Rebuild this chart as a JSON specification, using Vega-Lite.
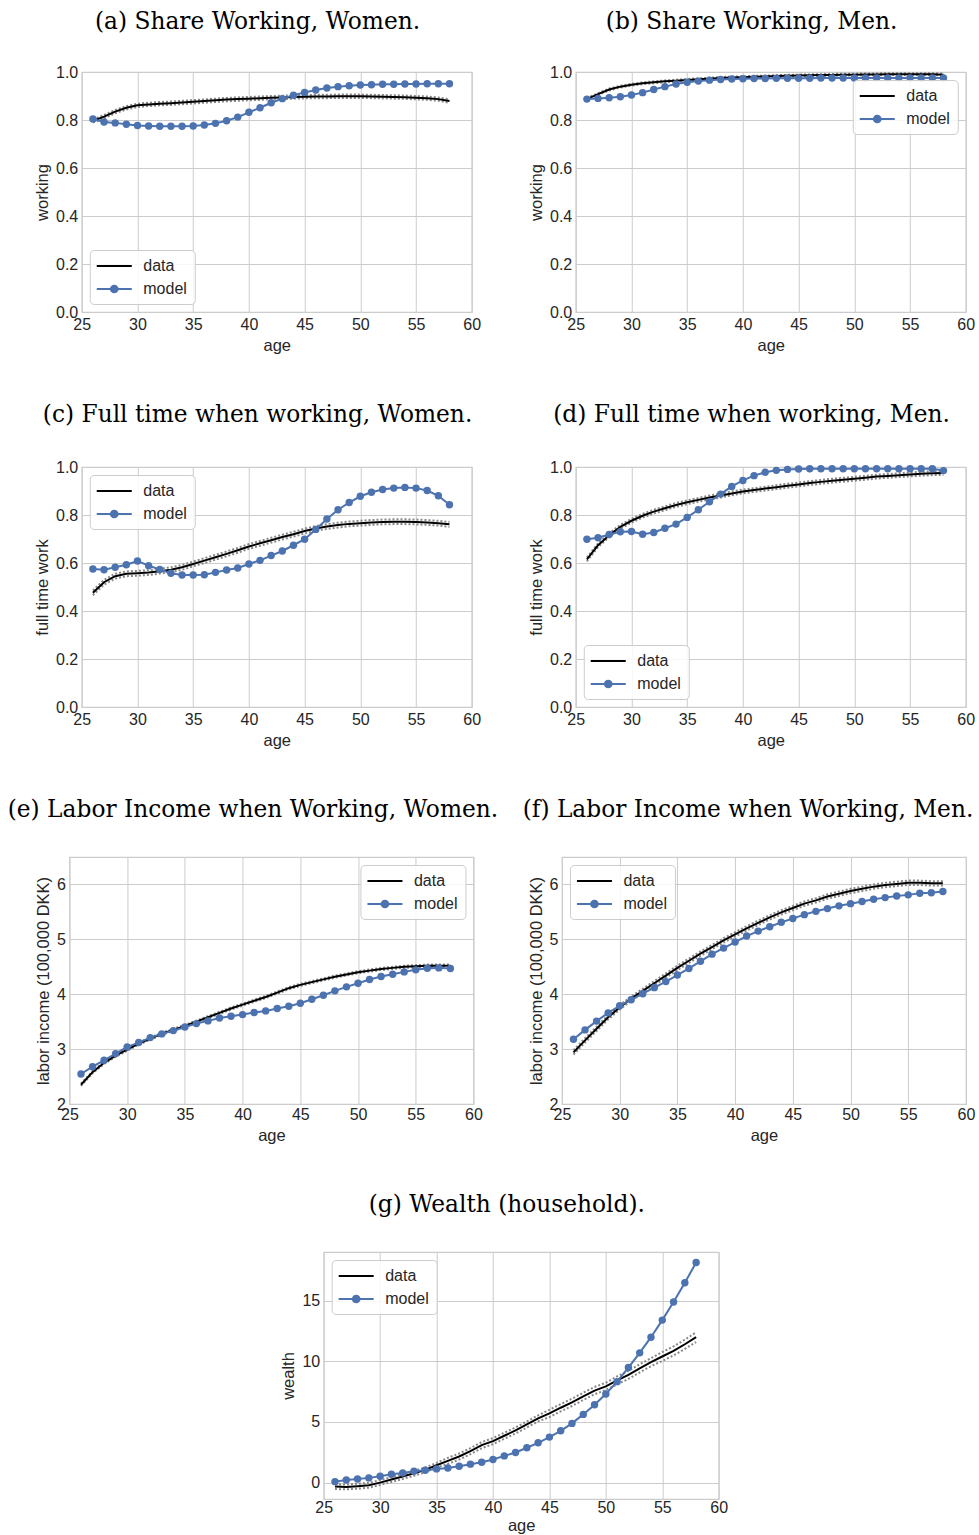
{
"$schema": "https://vega.github.io/schema/vega-lite/v6.json",
"background": "white",
"padding": {"left": 7, "top": 9, "right": 0, "bottom": 0},
"spacing": 47,
"center": true,
"resolve": {"scale": {"color": "independent"}, "legend": {"color": "independent"}},
"config": {
 "view": {"stroke": "#cccccc", "strokeWidth": 1.2},
 "axis": {"grid": true, "gridColor": "#cccccc", "gridWidth": 1, "domain": false, "ticks": false, "labelFont": "Liberation Sans", "labelFontSize": 16, "labelColor": "#262626", "titleFont": "Liberation Sans", "titleFontSize": 16.5, "titleFontWeight": "normal", "titleColor": "#262626", "labelPadding": 4, "titlePadding": 5, "labelFlush": false, "labelOverlap": false},
 "title": {"font": "DejaVu Serif", "fontSize": 23.3, "fontWeight": "normal", "color": "#000000", "offset": 30, "anchor": "middle", "frame": "bounds"},
 "legend": {"title": null, "symbolSize": 256, "symbolOffset": 8.5, "labelOffset": 20, "labelFontSize": 16, "labelFont": "Liberation Sans", "labelColor": "#262626", "padding": 7, "rowPadding": 6, "strokeColor": "#cccccc", "fillColor": "rgba(255,255,255,0.85)", "cornerRadius": 4, "symbolStrokeWidth": 2, "offset": 8}
},
"datasets": {
"a": [
{"age":26,"lo":0.789,"data":0.796,"hi":0.803,"model":0.804},
{"age":27,"lo":0.807,"data":0.814,"hi":0.821,"model":0.792},
{"age":28,"lo":0.828,"data":0.835,"hi":0.842,"model":0.788},
{"age":29,"lo":0.844,"data":0.851,"hi":0.858,"model":0.782},
{"age":30,"lo":0.854,"data":0.861,"hi":0.868,"model":0.777},
{"age":31,"lo":0.858,"data":0.865,"hi":0.872,"model":0.775},
{"age":32,"lo":0.861,"data":0.868,"hi":0.875,"model":0.774},
{"age":33,"lo":0.863,"data":0.870,"hi":0.877,"model":0.774},
{"age":34,"lo":0.866,"data":0.873,"hi":0.880,"model":0.774},
{"age":35,"lo":0.869,"data":0.876,"hi":0.883,"model":0.775},
{"age":36,"lo":0.872,"data":0.879,"hi":0.886,"model":0.779},
{"age":37,"lo":0.875,"data":0.882,"hi":0.889,"model":0.786},
{"age":38,"lo":0.878,"data":0.885,"hi":0.892,"model":0.797},
{"age":39,"lo":0.880,"data":0.887,"hi":0.894,"model":0.812},
{"age":40,"lo":0.882,"data":0.889,"hi":0.896,"model":0.832},
{"age":41,"lo":0.884,"data":0.891,"hi":0.898,"model":0.851},
{"age":42,"lo":0.886,"data":0.893,"hi":0.900,"model":0.872},
{"age":43,"lo":0.887,"data":0.894,"hi":0.901,"model":0.889},
{"age":44,"lo":0.889,"data":0.896,"hi":0.903,"model":0.903},
{"age":45,"lo":0.890,"data":0.897,"hi":0.904,"model":0.915},
{"age":46,"lo":0.891,"data":0.898,"hi":0.905,"model":0.925},
{"age":47,"lo":0.891,"data":0.898,"hi":0.905,"model":0.933},
{"age":48,"lo":0.892,"data":0.899,"hi":0.906,"model":0.939},
{"age":49,"lo":0.892,"data":0.899,"hi":0.906,"model":0.943},
{"age":50,"lo":0.892,"data":0.899,"hi":0.906,"model":0.946},
{"age":51,"lo":0.891,"data":0.898,"hi":0.905,"model":0.947},
{"age":52,"lo":0.890,"data":0.897,"hi":0.904,"model":0.949},
{"age":53,"lo":0.889,"data":0.896,"hi":0.903,"model":0.949},
{"age":54,"lo":0.888,"data":0.895,"hi":0.902,"model":0.950},
{"age":55,"lo":0.886,"data":0.893,"hi":0.900,"model":0.950},
{"age":56,"lo":0.884,"data":0.891,"hi":0.898,"model":0.951},
{"age":57,"lo":0.880,"data":0.887,"hi":0.894,"model":0.951},
{"age":58,"lo":0.872,"data":0.879,"hi":0.886,"model":0.951}
],
"b": [
{"age":26,"lo":0.883,"data":0.887,"hi":0.891,"model":0.887},
{"age":27,"lo":0.904,"data":0.908,"hi":0.912,"model":0.890},
{"age":28,"lo":0.923,"data":0.927,"hi":0.931,"model":0.893},
{"age":29,"lo":0.935,"data":0.939,"hi":0.943,"model":0.897},
{"age":30,"lo":0.943,"data":0.947,"hi":0.951,"model":0.904},
{"age":31,"lo":0.949,"data":0.953,"hi":0.957,"model":0.914},
{"age":32,"lo":0.953,"data":0.957,"hi":0.961,"model":0.927},
{"age":33,"lo":0.957,"data":0.961,"hi":0.965,"model":0.939},
{"age":34,"lo":0.960,"data":0.964,"hi":0.968,"model":0.950},
{"age":35,"lo":0.963,"data":0.967,"hi":0.971,"model":0.957},
{"age":36,"lo":0.966,"data":0.970,"hi":0.974,"model":0.962},
{"age":37,"lo":0.968,"data":0.972,"hi":0.976,"model":0.966},
{"age":38,"lo":0.971,"data":0.975,"hi":0.979,"model":0.969},
{"age":39,"lo":0.973,"data":0.977,"hi":0.981,"model":0.971},
{"age":40,"lo":0.974,"data":0.978,"hi":0.982,"model":0.972},
{"age":41,"lo":0.976,"data":0.980,"hi":0.984,"model":0.973},
{"age":42,"lo":0.977,"data":0.981,"hi":0.985,"model":0.973},
{"age":43,"lo":0.979,"data":0.983,"hi":0.987,"model":0.974},
{"age":44,"lo":0.980,"data":0.984,"hi":0.988,"model":0.974},
{"age":45,"lo":0.981,"data":0.985,"hi":0.989,"model":0.974},
{"age":46,"lo":0.982,"data":0.986,"hi":0.990,"model":0.974},
{"age":47,"lo":0.983,"data":0.987,"hi":0.991,"model":0.975},
{"age":48,"lo":0.984,"data":0.988,"hi":0.992,"model":0.975},
{"age":49,"lo":0.985,"data":0.989,"hi":0.993,"model":0.975},
{"age":50,"lo":0.985,"data":0.989,"hi":0.993,"model":0.975},
{"age":51,"lo":0.986,"data":0.990,"hi":0.994,"model":0.975},
{"age":52,"lo":0.986,"data":0.990,"hi":0.994,"model":0.975},
{"age":53,"lo":0.987,"data":0.991,"hi":0.995,"model":0.975},
{"age":54,"lo":0.987,"data":0.991,"hi":0.995,"model":0.975},
{"age":55,"lo":0.987,"data":0.991,"hi":0.995,"model":0.975},
{"age":56,"lo":0.987,"data":0.991,"hi":0.995,"model":0.975},
{"age":57,"lo":0.987,"data":0.991,"hi":0.995,"model":0.975},
{"age":58,"lo":0.985,"data":0.989,"hi":0.993,"model":0.975}
],
"c": [
{"age":26,"lo":0.466,"data":0.476,"hi":0.486,"model":0.575},
{"age":27,"lo":0.510,"data":0.520,"hi":0.530,"model":0.572},
{"age":28,"lo":0.535,"data":0.545,"hi":0.555,"model":0.582},
{"age":29,"lo":0.545,"data":0.555,"hi":0.565,"model":0.593},
{"age":30,"lo":0.547,"data":0.557,"hi":0.567,"model":0.608},
{"age":31,"lo":0.550,"data":0.560,"hi":0.570,"model":0.589},
{"age":32,"lo":0.556,"data":0.566,"hi":0.576,"model":0.573},
{"age":33,"lo":0.562,"data":0.572,"hi":0.582,"model":0.557},
{"age":34,"lo":0.572,"data":0.582,"hi":0.592,"model":0.550},
{"age":35,"lo":0.586,"data":0.596,"hi":0.606,"model":0.550},
{"age":36,"lo":0.600,"data":0.610,"hi":0.620,"model":0.551},
{"age":37,"lo":0.614,"data":0.624,"hi":0.634,"model":0.561},
{"age":38,"lo":0.628,"data":0.638,"hi":0.648,"model":0.571},
{"age":39,"lo":0.643,"data":0.653,"hi":0.663,"model":0.579},
{"age":40,"lo":0.659,"data":0.669,"hi":0.679,"model":0.596},
{"age":41,"lo":0.672,"data":0.682,"hi":0.692,"model":0.611},
{"age":42,"lo":0.685,"data":0.695,"hi":0.705,"model":0.631},
{"age":43,"lo":0.698,"data":0.708,"hi":0.718,"model":0.650},
{"age":44,"lo":0.710,"data":0.720,"hi":0.730,"model":0.674},
{"age":45,"lo":0.723,"data":0.733,"hi":0.743,"model":0.699},
{"age":46,"lo":0.734,"data":0.744,"hi":0.754,"model":0.740},
{"age":47,"lo":0.742,"data":0.752,"hi":0.762,"model":0.783},
{"age":48,"lo":0.748,"data":0.758,"hi":0.768,"model":0.822},
{"age":49,"lo":0.753,"data":0.763,"hi":0.773,"model":0.852},
{"age":50,"lo":0.756,"data":0.766,"hi":0.776,"model":0.878},
{"age":51,"lo":0.759,"data":0.769,"hi":0.779,"model":0.895},
{"age":52,"lo":0.761,"data":0.771,"hi":0.781,"model":0.906},
{"age":53,"lo":0.762,"data":0.772,"hi":0.782,"model":0.912},
{"age":54,"lo":0.762,"data":0.772,"hi":0.782,"model":0.915},
{"age":55,"lo":0.761,"data":0.771,"hi":0.781,"model":0.912},
{"age":56,"lo":0.759,"data":0.769,"hi":0.779,"model":0.902},
{"age":57,"lo":0.756,"data":0.766,"hi":0.776,"model":0.880},
{"age":58,"lo":0.751,"data":0.761,"hi":0.771,"model":0.843}
],
"d": [
{"age":26,"lo":0.607,"data":0.615,"hi":0.623,"model":0.699},
{"age":27,"lo":0.666,"data":0.674,"hi":0.682,"model":0.705},
{"age":28,"lo":0.708,"data":0.716,"hi":0.724,"model":0.719},
{"age":29,"lo":0.743,"data":0.751,"hi":0.759,"model":0.730},
{"age":30,"lo":0.768,"data":0.776,"hi":0.784,"model":0.731},
{"age":31,"lo":0.789,"data":0.797,"hi":0.805,"model":0.720},
{"age":32,"lo":0.806,"data":0.814,"hi":0.822,"model":0.727},
{"age":33,"lo":0.820,"data":0.828,"hi":0.836,"model":0.745},
{"age":34,"lo":0.834,"data":0.842,"hi":0.850,"model":0.762},
{"age":35,"lo":0.845,"data":0.853,"hi":0.861,"model":0.790},
{"age":36,"lo":0.855,"data":0.863,"hi":0.871,"model":0.822},
{"age":37,"lo":0.865,"data":0.873,"hi":0.881,"model":0.855},
{"age":38,"lo":0.873,"data":0.881,"hi":0.889,"model":0.887},
{"age":39,"lo":0.882,"data":0.890,"hi":0.898,"model":0.919},
{"age":40,"lo":0.890,"data":0.898,"hi":0.906,"model":0.944},
{"age":41,"lo":0.896,"data":0.904,"hi":0.912,"model":0.964},
{"age":42,"lo":0.902,"data":0.910,"hi":0.918,"model":0.978},
{"age":43,"lo":0.908,"data":0.916,"hi":0.924,"model":0.986},
{"age":44,"lo":0.914,"data":0.922,"hi":0.930,"model":0.990},
{"age":45,"lo":0.919,"data":0.927,"hi":0.935,"model":0.992},
{"age":46,"lo":0.925,"data":0.933,"hi":0.941,"model":0.993},
{"age":47,"lo":0.930,"data":0.938,"hi":0.946,"model":0.993},
{"age":48,"lo":0.935,"data":0.943,"hi":0.951,"model":0.993},
{"age":49,"lo":0.939,"data":0.947,"hi":0.955,"model":0.993},
{"age":50,"lo":0.943,"data":0.951,"hi":0.959,"model":0.993},
{"age":51,"lo":0.947,"data":0.955,"hi":0.963,"model":0.993},
{"age":52,"lo":0.952,"data":0.960,"hi":0.968,"model":0.993},
{"age":53,"lo":0.955,"data":0.963,"hi":0.971,"model":0.993},
{"age":54,"lo":0.958,"data":0.966,"hi":0.974,"model":0.993},
{"age":55,"lo":0.961,"data":0.969,"hi":0.977,"model":0.993},
{"age":56,"lo":0.964,"data":0.972,"hi":0.980,"model":0.993},
{"age":57,"lo":0.966,"data":0.974,"hi":0.982,"model":0.993},
{"age":58,"lo":0.967,"data":0.975,"hi":0.983,"model":0.985}
],
"e": [
{"age":26,"lo":2.33,"data":2.35,"hi":2.37,"model":2.547},
{"age":27,"lo":2.56,"data":2.58,"hi":2.60,"model":2.680},
{"age":28,"lo":2.73,"data":2.75,"hi":2.77,"model":2.796},
{"age":29,"lo":2.86,"data":2.88,"hi":2.90,"model":2.918},
{"age":30,"lo":2.97,"data":2.99,"hi":3.01,"model":3.040},
{"age":31,"lo":3.08,"data":3.10,"hi":3.12,"model":3.119},
{"age":32,"lo":3.17,"data":3.19,"hi":3.21,"model":3.210},
{"age":33,"lo":3.26,"data":3.28,"hi":3.30,"model":3.277},
{"age":34,"lo":3.33,"data":3.35,"hi":3.37,"model":3.337},
{"age":35,"lo":3.40,"data":3.42,"hi":3.44,"model":3.404},
{"age":36,"lo":3.48,"data":3.50,"hi":3.52,"model":3.465},
{"age":37,"lo":3.56,"data":3.58,"hi":3.60,"model":3.514},
{"age":38,"lo":3.64,"data":3.66,"hi":3.68,"model":3.568},
{"age":39,"lo":3.72,"data":3.74,"hi":3.76,"model":3.600},
{"age":40,"lo":3.79,"data":3.81,"hi":3.83,"model":3.629},
{"age":41,"lo":3.86,"data":3.88,"hi":3.90,"model":3.666},
{"age":42,"lo":3.93,"data":3.95,"hi":3.97,"model":3.696},
{"age":43,"lo":4.01,"data":4.03,"hi":4.05,"model":3.739},
{"age":44,"lo":4.09,"data":4.11,"hi":4.13,"model":3.781},
{"age":45,"lo":4.15,"data":4.17,"hi":4.19,"model":3.836},
{"age":46,"lo":4.20,"data":4.22,"hi":4.24,"model":3.909},
{"age":47,"lo":4.25,"data":4.27,"hi":4.29,"model":3.982},
{"age":48,"lo":4.30,"data":4.32,"hi":4.34,"model":4.061},
{"age":49,"lo":4.34,"data":4.36,"hi":4.38,"model":4.134},
{"age":50,"lo":4.38,"data":4.40,"hi":4.42,"model":4.200},
{"age":51,"lo":4.41,"data":4.43,"hi":4.45,"model":4.267},
{"age":52,"lo":4.44,"data":4.46,"hi":4.48,"model":4.322},
{"age":53,"lo":4.46,"data":4.48,"hi":4.50,"model":4.365},
{"age":54,"lo":4.48,"data":4.50,"hi":4.52,"model":4.407},
{"age":55,"lo":4.49,"data":4.51,"hi":4.53,"model":4.444},
{"age":56,"lo":4.50,"data":4.52,"hi":4.54,"model":4.474},
{"age":57,"lo":4.50,"data":4.52,"hi":4.54,"model":4.480},
{"age":58,"lo":4.50,"data":4.52,"hi":4.54,"model":4.468}
],
"f": [
{"age":26,"lo":2.90,"data":2.94,"hi":2.98,"model":3.18},
{"age":27,"lo":3.12,"data":3.16,"hi":3.20,"model":3.35},
{"age":28,"lo":3.33,"data":3.37,"hi":3.41,"model":3.51},
{"age":29,"lo":3.54,"data":3.58,"hi":3.62,"model":3.66},
{"age":30,"lo":3.72,"data":3.76,"hi":3.80,"model":3.79},
{"age":31,"lo":3.88,"data":3.92,"hi":3.96,"model":3.90},
{"age":32,"lo":4.02,"data":4.06,"hi":4.10,"model":4.01},
{"age":33,"lo":4.16,"data":4.20,"hi":4.24,"model":4.12},
{"age":34,"lo":4.30,"data":4.34,"hi":4.38,"model":4.23},
{"age":35,"lo":4.44,"data":4.48,"hi":4.52,"model":4.35},
{"age":36,"lo":4.57,"data":4.61,"hi":4.65,"model":4.47},
{"age":37,"lo":4.70,"data":4.74,"hi":4.78,"model":4.60},
{"age":38,"lo":4.82,"data":4.86,"hi":4.90,"model":4.73},
{"age":39,"lo":4.94,"data":4.98,"hi":5.02,"model":4.84},
{"age":40,"lo":5.05,"data":5.09,"hi":5.13,"model":4.95},
{"age":41,"lo":5.16,"data":5.20,"hi":5.24,"model":5.06},
{"age":42,"lo":5.26,"data":5.30,"hi":5.34,"model":5.15},
{"age":43,"lo":5.36,"data":5.40,"hi":5.44,"model":5.23},
{"age":44,"lo":5.45,"data":5.49,"hi":5.53,"model":5.31},
{"age":45,"lo":5.53,"data":5.57,"hi":5.61,"model":5.38},
{"age":46,"lo":5.61,"data":5.65,"hi":5.69,"model":5.45},
{"age":47,"lo":5.67,"data":5.71,"hi":5.75,"model":5.51},
{"age":48,"lo":5.74,"data":5.78,"hi":5.82,"model":5.56},
{"age":49,"lo":5.79,"data":5.83,"hi":5.87,"model":5.61},
{"age":50,"lo":5.84,"data":5.88,"hi":5.92,"model":5.65},
{"age":51,"lo":5.88,"data":5.92,"hi":5.96,"model":5.69},
{"age":52,"lo":5.92,"data":5.96,"hi":6.00,"model":5.73},
{"age":53,"lo":5.95,"data":5.99,"hi":6.03,"model":5.76},
{"age":54,"lo":5.97,"data":6.01,"hi":6.05,"model":5.79},
{"age":55,"lo":5.99,"data":6.03,"hi":6.07,"model":5.81},
{"age":56,"lo":5.99,"data":6.03,"hi":6.07,"model":5.84},
{"age":57,"lo":5.98,"data":6.02,"hi":6.06,"model":5.85},
{"age":58,"lo":5.98,"data":6.02,"hi":6.06,"model":5.87}
],
"g": [
{"age":26,"lo":-0.53,"data":-0.33,"hi":-0.13,"model":0.08},
{"age":27,"lo":-0.56,"data":-0.36,"hi":-0.16,"model":0.22},
{"age":28,"lo":-0.50,"data":-0.30,"hi":-0.10,"model":0.30},
{"age":29,"lo":-0.42,"data":-0.22,"hi":-0.02,"model":0.39},
{"age":30,"lo":-0.20,"data":0.00,"hi":0.20,"model":0.52},
{"age":31,"lo":0.05,"data":0.25,"hi":0.45,"model":0.69},
{"age":32,"lo":0.30,"data":0.50,"hi":0.70,"model":0.80},
{"age":33,"lo":0.57,"data":0.77,"hi":0.97,"model":0.94},
{"age":34,"lo":0.85,"data":1.05,"hi":1.25,"model":1.02},
{"age":35,"lo":1.23,"data":1.43,"hi":1.63,"model":1.13},
{"age":36,"lo":1.54,"data":1.79,"hi":2.04,"model":1.21},
{"age":37,"lo":1.90,"data":2.15,"hi":2.40,"model":1.35},
{"age":38,"lo":2.34,"data":2.59,"hi":2.84,"model":1.52},
{"age":39,"lo":2.84,"data":3.09,"hi":3.34,"model":1.68},
{"age":40,"lo":3.17,"data":3.42,"hi":3.67,"model":1.90},
{"age":41,"lo":3.61,"data":3.86,"hi":4.11,"model":2.20},
{"age":42,"lo":4.05,"data":4.30,"hi":4.55,"model":2.48},
{"age":43,"lo":4.54,"data":4.79,"hi":5.04,"model":2.87},
{"age":44,"lo":5.04,"data":5.29,"hi":5.54,"model":3.28},
{"age":45,"lo":5.40,"data":5.70,"hi":6.00,"model":3.75},
{"age":46,"lo":5.87,"data":6.17,"hi":6.47,"model":4.27},
{"age":47,"lo":6.31,"data":6.61,"hi":6.91,"model":4.88},
{"age":48,"lo":6.81,"data":7.11,"hi":7.41,"model":5.62},
{"age":49,"lo":7.28,"data":7.58,"hi":7.88,"model":6.42},
{"age":50,"lo":7.63,"data":7.93,"hi":8.23,"model":7.30},
{"age":51,"lo":8.10,"data":8.43,"hi":8.76,"model":8.32},
{"age":52,"lo":8.54,"data":8.87,"hi":9.20,"model":9.48},
{"age":53,"lo":9.09,"data":9.42,"hi":9.75,"model":10.69},
{"age":54,"lo":9.59,"data":9.92,"hi":10.25,"model":11.98},
{"age":55,"lo":10.02,"data":10.39,"hi":10.76,"model":13.39},
{"age":56,"lo":10.48,"data":10.85,"hi":11.22,"model":14.88},
{"age":57,"lo":11.02,"data":11.40,"hi":11.78,"model":16.47},
{"age":58,"lo":11.58,"data":11.98,"hi":12.38,"model":18.13}
]
},
"vconcat": [
{"hconcat": [
 {"title": "(a) Share Working, Women.", "width": 390, "height": 240, "data": {"name": "a"},
  "layer": [
   {"transform": [{"fold": ["lo", "hi"], "as": ["band", "v"]}],
    "mark": {"type": "line", "strokeDash": [2, 2], "strokeWidth": 2, "color": "#888888"},
    "encoding": {"x": {"field": "age", "type": "quantitative", "scale": {"domain": [25, 60], "nice": false, "zero": false}, "axis": {"values": [25,30,35,40,45,50,55,60], "title": "age"}},
     "y": {"field": "v", "type": "quantitative", "scale": {"domain": [0, 1], "nice": false}, "axis": {"values": [0,0.2,0.4,0.6,0.8,1], "format": ".1f", "title": "working"}},
     "detail": {"field": "band", "type": "nominal"}}},
   {"transform": [{"fold": ["data", "model"], "as": ["series", "v"]}],
    "mark": {"type": "line", "strokeWidth": 2},
    "encoding": {"x": {"field": "age", "type": "quantitative"},
     "y": {"field": "v", "type": "quantitative", "title": "working"},
     "color": {"field": "series", "type": "nominal", "scale": {"domain": ["data", "model"], "range": ["#000000", "#4c72b0"]},
      "legend": {"orient": "bottom-left", "encode": {"symbols": {"update": {"shape": {"signal": "datum.value === 'model' ? 'M-2.1875,0L2.1875,0M-0.42,0A0.42,0.42 0 1,1 0.42,0A0.42,0.42 0 1,1 -0.42,0Z' : 'M-2.1875,0L2.1875,0'"}, "fill": {"signal": "datum.value === 'model' ? '#4c72b0' : 'transparent'"}, "strokeWidth": {"value": 2}, "opacity": {"value": 1}}}}}}}},
   {"mark": {"type": "point", "filled": true, "size": 55, "opacity": 1, "color": "#4c72b0", "strokeWidth": 0},
    "encoding": {"x": {"field": "age", "type": "quantitative"}, "y": {"field": "model", "type": "quantitative", "title": "working"}}}
  ]},
 {"title": "(b) Share Working, Men.", "width": 390, "height": 240, "data": {"name": "b"},
  "layer": [
   {"transform": [{"fold": ["lo", "hi"], "as": ["band", "v"]}],
    "mark": {"type": "line", "strokeDash": [2, 2], "strokeWidth": 2, "color": "#888888"},
    "encoding": {"x": {"field": "age", "type": "quantitative", "scale": {"domain": [25, 60], "nice": false, "zero": false}, "axis": {"values": [25,30,35,40,45,50,55,60], "title": "age"}},
     "y": {"field": "v", "type": "quantitative", "scale": {"domain": [0, 1], "nice": false}, "axis": {"values": [0,0.2,0.4,0.6,0.8,1], "format": ".1f", "title": "working"}},
     "detail": {"field": "band", "type": "nominal"}}},
   {"transform": [{"fold": ["data", "model"], "as": ["series", "v"]}],
    "mark": {"type": "line", "strokeWidth": 2},
    "encoding": {"x": {"field": "age", "type": "quantitative"},
     "y": {"field": "v", "type": "quantitative", "title": "working"},
     "color": {"field": "series", "type": "nominal", "scale": {"domain": ["data", "model"], "range": ["#000000", "#4c72b0"]},
      "legend": {"orient": "top-right", "encode": {"symbols": {"update": {"shape": {"signal": "datum.value === 'model' ? 'M-2.1875,0L2.1875,0M-0.42,0A0.42,0.42 0 1,1 0.42,0A0.42,0.42 0 1,1 -0.42,0Z' : 'M-2.1875,0L2.1875,0'"}, "fill": {"signal": "datum.value === 'model' ? '#4c72b0' : 'transparent'"}, "strokeWidth": {"value": 2}, "opacity": {"value": 1}}}}}}}},
   {"mark": {"type": "point", "filled": true, "size": 55, "opacity": 1, "color": "#4c72b0", "strokeWidth": 0},
    "encoding": {"x": {"field": "age", "type": "quantitative"}, "y": {"field": "model", "type": "quantitative", "title": "working"}}}
  ]}
], "spacing": 46, "resolve": {"scale": {"color": "independent"}, "legend": {"color": "independent"}}},
{"hconcat": [
 {"title": {"text": "(c) Full time when working, Women.", "offset": 32}, "width": 390, "height": 240, "data": {"name": "c"},
  "layer": [
   {"transform": [{"fold": ["lo", "hi"], "as": ["band", "v"]}],
    "mark": {"type": "line", "strokeDash": [2, 2], "strokeWidth": 2, "color": "#888888"},
    "encoding": {"x": {"field": "age", "type": "quantitative", "scale": {"domain": [25, 60], "nice": false, "zero": false}, "axis": {"values": [25,30,35,40,45,50,55,60], "title": "age"}},
     "y": {"field": "v", "type": "quantitative", "scale": {"domain": [0, 1], "nice": false}, "axis": {"values": [0,0.2,0.4,0.6,0.8,1], "format": ".1f", "title": "full time work"}},
     "detail": {"field": "band", "type": "nominal"}}},
   {"transform": [{"fold": ["data", "model"], "as": ["series", "v"]}],
    "mark": {"type": "line", "strokeWidth": 2},
    "encoding": {"x": {"field": "age", "type": "quantitative"},
     "y": {"field": "v", "type": "quantitative", "title": "full time work"},
     "color": {"field": "series", "type": "nominal", "scale": {"domain": ["data", "model"], "range": ["#000000", "#4c72b0"]},
      "legend": {"orient": "top-left", "encode": {"symbols": {"update": {"shape": {"signal": "datum.value === 'model' ? 'M-2.1875,0L2.1875,0M-0.42,0A0.42,0.42 0 1,1 0.42,0A0.42,0.42 0 1,1 -0.42,0Z' : 'M-2.1875,0L2.1875,0'"}, "fill": {"signal": "datum.value === 'model' ? '#4c72b0' : 'transparent'"}, "strokeWidth": {"value": 2}, "opacity": {"value": 1}}}}}}}},
   {"mark": {"type": "point", "filled": true, "size": 55, "opacity": 1, "color": "#4c72b0", "strokeWidth": 0},
    "encoding": {"x": {"field": "age", "type": "quantitative"}, "y": {"field": "model", "type": "quantitative", "title": "full time work"}}}
  ]},
 {"title": {"text": "(d) Full time when working, Men.", "offset": 32}, "width": 390, "height": 240, "data": {"name": "d"},
  "layer": [
   {"transform": [{"fold": ["lo", "hi"], "as": ["band", "v"]}],
    "mark": {"type": "line", "strokeDash": [2, 2], "strokeWidth": 2, "color": "#888888"},
    "encoding": {"x": {"field": "age", "type": "quantitative", "scale": {"domain": [25, 60], "nice": false, "zero": false}, "axis": {"values": [25,30,35,40,45,50,55,60], "title": "age"}},
     "y": {"field": "v", "type": "quantitative", "scale": {"domain": [0, 1], "nice": false}, "axis": {"values": [0,0.2,0.4,0.6,0.8,1], "format": ".1f", "title": "full time work"}},
     "detail": {"field": "band", "type": "nominal"}}},
   {"transform": [{"fold": ["data", "model"], "as": ["series", "v"]}],
    "mark": {"type": "line", "strokeWidth": 2},
    "encoding": {"x": {"field": "age", "type": "quantitative"},
     "y": {"field": "v", "type": "quantitative", "title": "full time work"},
     "color": {"field": "series", "type": "nominal", "scale": {"domain": ["data", "model"], "range": ["#000000", "#4c72b0"]},
      "legend": {"orient": "bottom-left", "encode": {"symbols": {"update": {"shape": {"signal": "datum.value === 'model' ? 'M-2.1875,0L2.1875,0M-0.42,0A0.42,0.42 0 1,1 0.42,0A0.42,0.42 0 1,1 -0.42,0Z' : 'M-2.1875,0L2.1875,0'"}, "fill": {"signal": "datum.value === 'model' ? '#4c72b0' : 'transparent'"}, "strokeWidth": {"value": 2}, "opacity": {"value": 1}}}}}}}},
   {"mark": {"type": "point", "filled": true, "size": 55, "opacity": 1, "color": "#4c72b0", "strokeWidth": 0},
    "encoding": {"x": {"field": "age", "type": "quantitative"}, "y": {"field": "model", "type": "quantitative", "title": "full time work"}}}
  ]}
], "spacing": 46, "resolve": {"scale": {"color": "independent"}, "legend": {"color": "independent"}}},
{"hconcat": [
 {"title": {"text": "(e) Labor Income when Working, Women.", "offset": 35, "dx": -6}, "width": 404, "height": 247, "data": {"name": "e"},
  "layer": [
   {"transform": [{"fold": ["lo", "hi"], "as": ["band", "v"]}],
    "mark": {"type": "line", "strokeDash": [2, 2], "strokeWidth": 2, "color": "#888888"},
    "encoding": {"x": {"field": "age", "type": "quantitative", "scale": {"domain": [25, 60], "nice": false, "zero": false}, "axis": {"values": [25,30,35,40,45,50,55,60], "title": "age", "labelPadding": 2}},
     "y": {"field": "v", "type": "quantitative", "scale": {"domain": [2, 6.5], "nice": false, "zero": false}, "axis": {"values": [2,3,4,5,6], "format": "d", "title": "labor income (100,000 DKK)"}},
     "detail": {"field": "band", "type": "nominal"}}},
   {"transform": [{"fold": ["data", "model"], "as": ["series", "v"]}],
    "mark": {"type": "line", "strokeWidth": 2},
    "encoding": {"x": {"field": "age", "type": "quantitative"},
     "y": {"field": "v", "type": "quantitative", "title": "labor income (100,000 DKK)"},
     "color": {"field": "series", "type": "nominal", "scale": {"domain": ["data", "model"], "range": ["#000000", "#4c72b0"]},
      "legend": {"orient": "top-right", "encode": {"symbols": {"update": {"shape": {"signal": "datum.value === 'model' ? 'M-2.1875,0L2.1875,0M-0.42,0A0.42,0.42 0 1,1 0.42,0A0.42,0.42 0 1,1 -0.42,0Z' : 'M-2.1875,0L2.1875,0'"}, "fill": {"signal": "datum.value === 'model' ? '#4c72b0' : 'transparent'"}, "strokeWidth": {"value": 2}, "opacity": {"value": 1}}}}}}}},
   {"mark": {"type": "point", "filled": true, "size": 55, "opacity": 1, "color": "#4c72b0", "strokeWidth": 0},
    "encoding": {"x": {"field": "age", "type": "quantitative"}, "y": {"field": "model", "type": "quantitative", "title": "labor income (100,000 DKK)"}}}
  ]},
 {"title": {"text": "(f) Labor Income when Working, Men.", "offset": 35, "dx": -9.5}, "width": 404, "height": 247, "data": {"name": "f"},
  "resolve": {"scale": {"y": "independent"}},
  "layer": [
   {"transform": [{"fold": ["lo", "hi"], "as": ["band", "v"]}],
    "mark": {"type": "line", "strokeDash": [2, 2], "strokeWidth": 2, "color": "#888888"},
    "encoding": {"x": {"field": "age", "type": "quantitative", "scale": {"domain": [25, 60], "nice": false, "zero": false}, "axis": {"values": [25,30,35,40,45,50,55,60], "title": "age", "labelPadding": 2}},
     "y": {"field": "v", "type": "quantitative", "scale": {"domain": [2, 6.5], "nice": false, "zero": false}, "axis": {"values": [2,3,4,5,6], "format": "d", "title": "labor income (100,000 DKK)"}},
     "detail": {"field": "band", "type": "nominal"}}},
   {"transform": [{"fold": ["data", "model"], "as": ["series", "v"]}],
    "mark": {"type": "line", "strokeWidth": 2},
    "encoding": {"x": {"field": "age", "type": "quantitative"},
     "y": {"field": "v", "type": "quantitative", "scale": {"domain": [2, 6.5], "nice": false, "zero": false}, "axis": null},
     "color": {"field": "series", "type": "nominal", "scale": {"domain": ["data", "model"], "range": ["#000000", "#4c72b0"]},
      "legend": {"orient": "top-left", "encode": {"symbols": {"update": {"shape": {"signal": "datum.value === 'model' ? 'M-2.1875,0L2.1875,0M-0.42,0A0.42,0.42 0 1,1 0.42,0A0.42,0.42 0 1,1 -0.42,0Z' : 'M-2.1875,0L2.1875,0'"}, "fill": {"signal": "datum.value === 'model' ? '#4c72b0' : 'transparent'"}, "strokeWidth": {"value": 2}, "opacity": {"value": 1}}}}}}}},
   {"mark": {"type": "point", "filled": true, "size": 55, "opacity": 1, "color": "#4c72b0", "strokeWidth": 0},
    "encoding": {"x": {"field": "age", "type": "quantitative"}, "y": {"field": "model", "type": "quantitative", "scale": {"domain": [2, 6.5], "nice": false, "zero": false}, "axis": {"orient": "right", "labels": false, "grid": false, "ticks": false, "domain": false, "title": " ", "titlePadding": 5}}}}
  ]}
], "spacing": 22.5, "resolve": {"scale": {"color": "independent"}, "legend": {"color": "independent"}}},
{"title": {"text": "(g) Wealth (household).", "offset": 34.5}, "width": 395, "height": 247, "data": {"name": "g"},
  "resolve": {"scale": {"y": "independent"}},
  "layer": [
   {"transform": [{"fold": ["lo", "hi"], "as": ["band", "v"]}],
    "mark": {"type": "line", "strokeDash": [2, 2], "strokeWidth": 2, "color": "#888888"},
    "encoding": {"x": {"field": "age", "type": "quantitative", "scale": {"domain": [25, 60], "nice": false, "zero": false}, "axis": {"values": [25,30,35,40,45,50,55,60], "title": "age", "labelPadding": 0, "titlePadding": 2}},
     "y": {"field": "v", "type": "quantitative", "scale": {"domain": [-1.35, 19], "nice": false, "zero": false}, "axis": {"values": [0,5,10,15], "format": "d", "title": "wealth"}},
     "detail": {"field": "band", "type": "nominal"}}},
   {"transform": [{"fold": ["data", "model"], "as": ["series", "v"]}],
    "mark": {"type": "line", "strokeWidth": 2},
    "encoding": {"x": {"field": "age", "type": "quantitative"},
     "y": {"field": "v", "type": "quantitative", "scale": {"domain": [-1.35, 19], "nice": false, "zero": false}, "axis": null},
     "color": {"field": "series", "type": "nominal", "scale": {"domain": ["data", "model"], "range": ["#000000", "#4c72b0"]},
      "legend": {"orient": "top-left", "encode": {"symbols": {"update": {"shape": {"signal": "datum.value === 'model' ? 'M-2.1875,0L2.1875,0M-0.42,0A0.42,0.42 0 1,1 0.42,0A0.42,0.42 0 1,1 -0.42,0Z' : 'M-2.1875,0L2.1875,0'"}, "fill": {"signal": "datum.value === 'model' ? '#4c72b0' : 'transparent'"}, "strokeWidth": {"value": 2}, "opacity": {"value": 1}}}}}}}},
   {"mark": {"type": "point", "filled": true, "size": 55, "opacity": 1, "color": "#4c72b0", "strokeWidth": 0},
    "encoding": {"x": {"field": "age", "type": "quantitative"}, "y": {"field": "model", "type": "quantitative", "scale": {"domain": [-1.35, 19], "nice": false, "zero": false}, "axis": {"orient": "right", "labels": false, "grid": false, "ticks": false, "domain": false, "title": " ", "titleFontSize": 10, "titlePadding": 4}}}}
  ]}
]
}
